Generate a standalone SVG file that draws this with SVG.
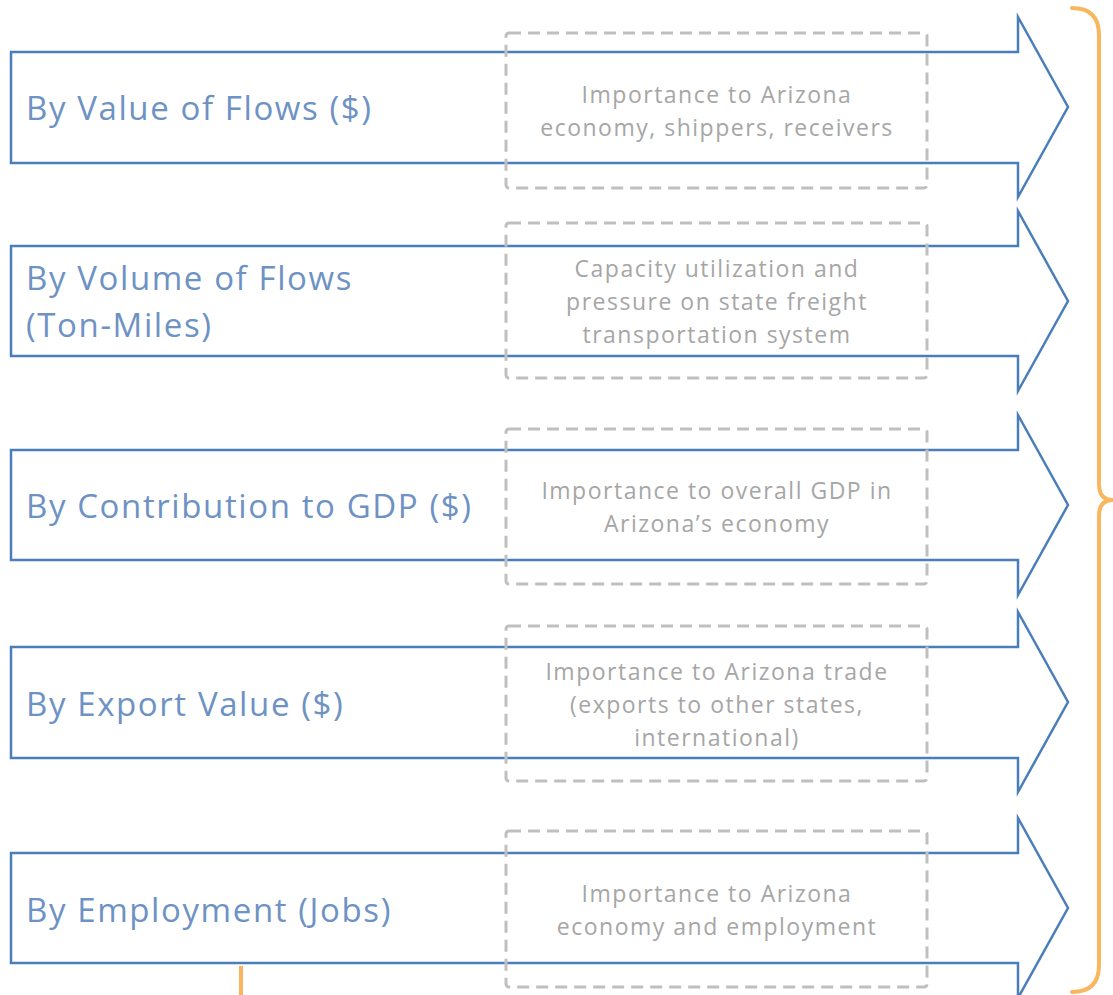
<svg xmlns="http://www.w3.org/2000/svg" width="1113" height="995" viewBox="0 0 1113 995">
<style>
.arrow{fill:none;stroke:#4A7EBB;stroke-width:2.5;stroke-linejoin:miter}
.dash{fill:none;stroke:#BFBFBF;stroke-width:3;stroke-dasharray:12 7}
.lbl{font-family:"Open Sans","Liberation Sans",sans-serif;font-size:33px;letter-spacing:1.6px;fill:#6E92C4}
.desc{font-family:"Open Sans","Liberation Sans",sans-serif;font-size:23px;letter-spacing:1.5px;fill:#A6A6A6;text-anchor:middle}
.brace{fill:none;stroke:#F9B65F;stroke-width:4;stroke-linecap:round}
</style>
<rect width="1113" height="995" fill="#FFFFFF"/>
<g id="connectors">
<path class="brace" d="M1072,8 Q1099,8 1099,35 L1099,484 Q1099,500 1113,500 Q1099,500 1099,516 L1099,965 Q1099,992 1072,992"/>
<line x1="241" y1="966" x2="241" y2="995" stroke="#F9B65F" stroke-width="4"/>
</g>
<g id="node1">
<path class="arrow" d="M11,52 H1018 V17 L1068,107 L1018,197 V163 H11 Z"/>
<rect class="dash" x="506" y="33" width="421" height="155" rx="3"/>
<text class="lbl" x="26" y="120">By Value of Flows ($)</text>
<text class="desc" x="717" y="103">Importance to Arizona</text>
<text class="desc" x="717" y="136">economy, shippers, receivers</text>
</g>
<g id="node2">
<path class="arrow" d="M11,246 H1018 V211 L1068,301 L1018,391 V356 H11 Z"/>
<rect class="dash" x="506" y="223" width="421" height="155" rx="3"/>
<text class="lbl" x="26" y="290">By Volume of Flows</text>
<text class="lbl" x="26" y="337">(Ton-Miles)</text>
<text class="desc" x="717" y="277">Capacity utilization and</text>
<text class="desc" x="717" y="310">pressure on state freight</text>
<text class="desc" x="717" y="343">transportation system</text>
</g>
<g id="node3">
<path class="arrow" d="M11,450 H1018 V415 L1068,505 L1018,595 V560 H11 Z"/>
<rect class="dash" x="506" y="429" width="421" height="155" rx="3"/>
<text class="lbl" x="26" y="518">By Contribution to GDP ($)</text>
<text class="desc" x="717" y="499">Importance to overall GDP in</text>
<text class="desc" x="717" y="532">Arizona’s economy</text>
</g>
<g id="node4">
<path class="arrow" d="M11,647 H1018 V612 L1068,702 L1018,792 V758 H11 Z"/>
<rect class="dash" x="506" y="626" width="421" height="155" rx="3"/>
<text class="lbl" x="26" y="716">By Export Value ($)</text>
<text class="desc" x="717" y="680">Importance to Arizona trade</text>
<text class="desc" x="717" y="713">(exports to other states,</text>
<text class="desc" x="717" y="746">international)</text>
</g>
<g id="node5">
<path class="arrow" d="M11,853 H1018 V818 L1068,908 L1018,998 V963 H11 Z"/>
<rect class="dash" x="506" y="831" width="421" height="156" rx="3"/>
<text class="lbl" x="26" y="922">By Employment (Jobs)</text>
<text class="desc" x="717" y="902">Importance to Arizona</text>
<text class="desc" x="717" y="935">economy and employment</text>
</g>
</svg>
